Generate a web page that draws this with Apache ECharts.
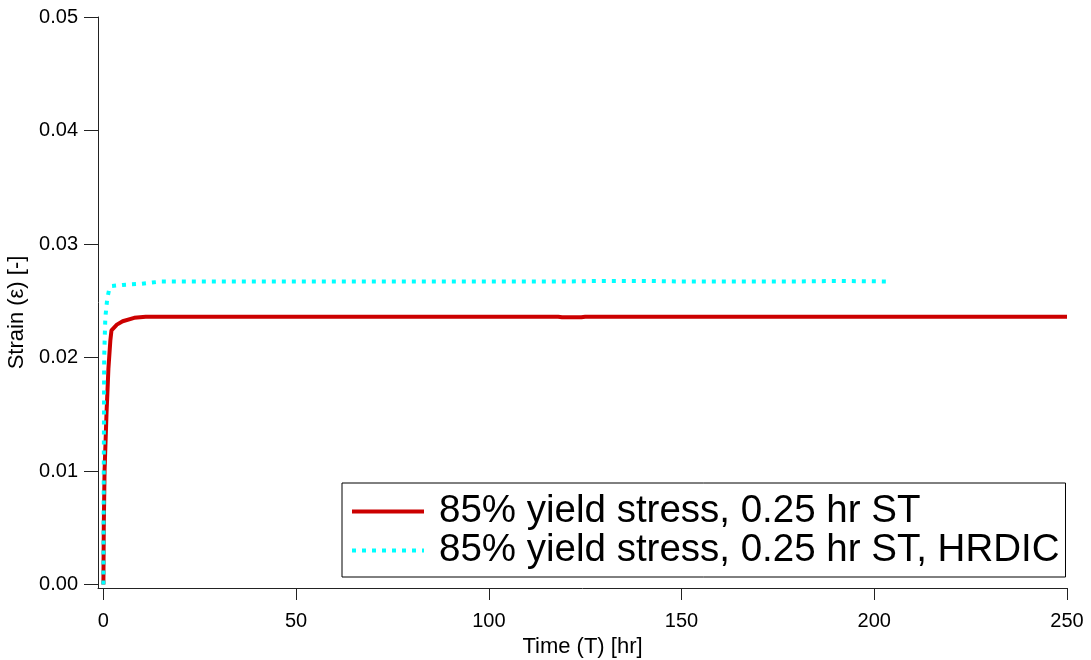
<!DOCTYPE html>
<html>
<head>
<meta charset="utf-8">
<script src="https://cdn.jsdelivr.net/npm/echarts@6/dist/echarts.min.js"></script>
<style>
  html, body { margin: 0; padding: 0; background: #fff; }
  #chart { width: 1091px; height: 660px; }
</style>
</head>
<body>
<div id="chart"></div>
<script>
// Creep strain vs time, 85% yield stress with 0.25 hr solution treatment
const seriesNames = ['85% yield stress, 0.25 hr ST', '85% yield stress, 0.25 hr ST, HRDIC'];

// [time (hr), strain (-)]
const strainST = [
  [0, 0], [0.1, 0.005], [0.3, 0.01], [0.8, 0.015], [1.3, 0.019], [1.8, 0.0215],
  [2.1, 0.0224], [3.5, 0.0229], [5, 0.0232], [8, 0.0235], [11, 0.0236],
  [50, 0.0236], [100, 0.0236], [118, 0.0236], [119, 0.02355], [124, 0.02355],
  [125, 0.0236], [150, 0.0236], [200, 0.0236], [250, 0.0236]
];

const strainHRDIC = [
  [0, 0], [0.1, 0.01], [0.2, 0.02], [0.5, 0.0235], [1, 0.0252], [1.5, 0.026],
  [2.2, 0.0263], [5, 0.0264], [10, 0.0265], [15, 0.0267], [50, 0.0267],
  [100, 0.0267], [120, 0.0267], [130, 0.02675], [140, 0.02675], [150, 0.0267],
  [180, 0.0267], [190, 0.02675], [204, 0.0267]
];

const xTicks = [0, 50, 100, 150, 200, 250];
const yTicks = [0, 0.01, 0.02, 0.03, 0.04, 0.05];

const FONT = '"Liberation Sans", Arial, sans-serif';
const AXIS_COLOR = '#222';

const chart = echarts.init(document.getElementById('chart'), null, { renderer: 'canvas' });

chart.setOption({
  animation: false,
  backgroundColor: '#fff',
  grid: { left: 98, right: 24, top: 17, bottom: 72, containLabel: false, outerBoundsMode: 'none' },
  xAxis: {
    type: 'value',
    min: -1.4,
    max: 250,
    name: 'Time (T) [hr]',
    nameLocation: 'middle',
    nameGap: 37,
    nameTextStyle: { fontFamily: FONT, fontSize: 22, color: '#000' },
    axisLine: { show: true, onZero: false, lineStyle: { color: AXIS_COLOR, width: 1 } },
    axisTick: { show: true, inside: false, length: 12, customValues: xTicks, lineStyle: { color: AXIS_COLOR } },
    axisLabel: { customValues: xTicks, margin: 23, fontFamily: FONT, fontSize: 20, color: '#000' },
    splitLine: { show: false }
  },
  yAxis: {
    type: 'value',
    min: -0.0003,
    max: 0.05,
    name: 'Strain (ε) [-]',
    nameLocation: 'middle',
    nameGap: 61,
    nameTextStyle: { fontFamily: FONT, fontSize: 22, color: '#000', padding: [0, 20, 0, 0] },
    axisLine: { show: true, onZero: false, lineStyle: { color: AXIS_COLOR, width: 1 } },
    axisTick: { show: true, inside: false, length: 14, customValues: yTicks, lineStyle: { color: AXIS_COLOR } },
    axisLabel: {
      customValues: yTicks, margin: 20, fontFamily: FONT, fontSize: 20, color: '#000',
      formatter: v => v.toFixed(2)
    },
    splitLine: { show: false }
  },
  legend: {
    orient: 'vertical',
    left: 342,
    top: 483,
    padding: [9, 6, 7, 8],
    itemGap: 0,
    itemWidth: 72,
    itemHeight: 14,
    borderColor: '#000',
    borderWidth: 1,
    backgroundColor: '#fff',
    itemStyle: { opacity: 0 },
    lineStyle: { width: 4 },
    textStyle: { fontFamily: FONT, fontSize: 38.5, color: '#000', lineHeight: 38, padding: [0, 0, 0, 10] },
    data: seriesNames
  },
  series: [
    {
      name: seriesNames[0],
      type: 'line',
      data: strainST,
      symbol: 'none',
      lineStyle: { color: '#cc0000', width: 4 },
      itemStyle: { color: '#cc0000' },
      z: 2
    },
    {
      name: seriesNames[1],
      type: 'line',
      data: strainHRDIC,
      symbol: 'none',
      lineStyle: { color: '#00ffff', width: 4, type: [4, 6] },
      itemStyle: { color: '#00ffff' },
      z: 3
    }
  ]
});
</script>
</body>
</html>
